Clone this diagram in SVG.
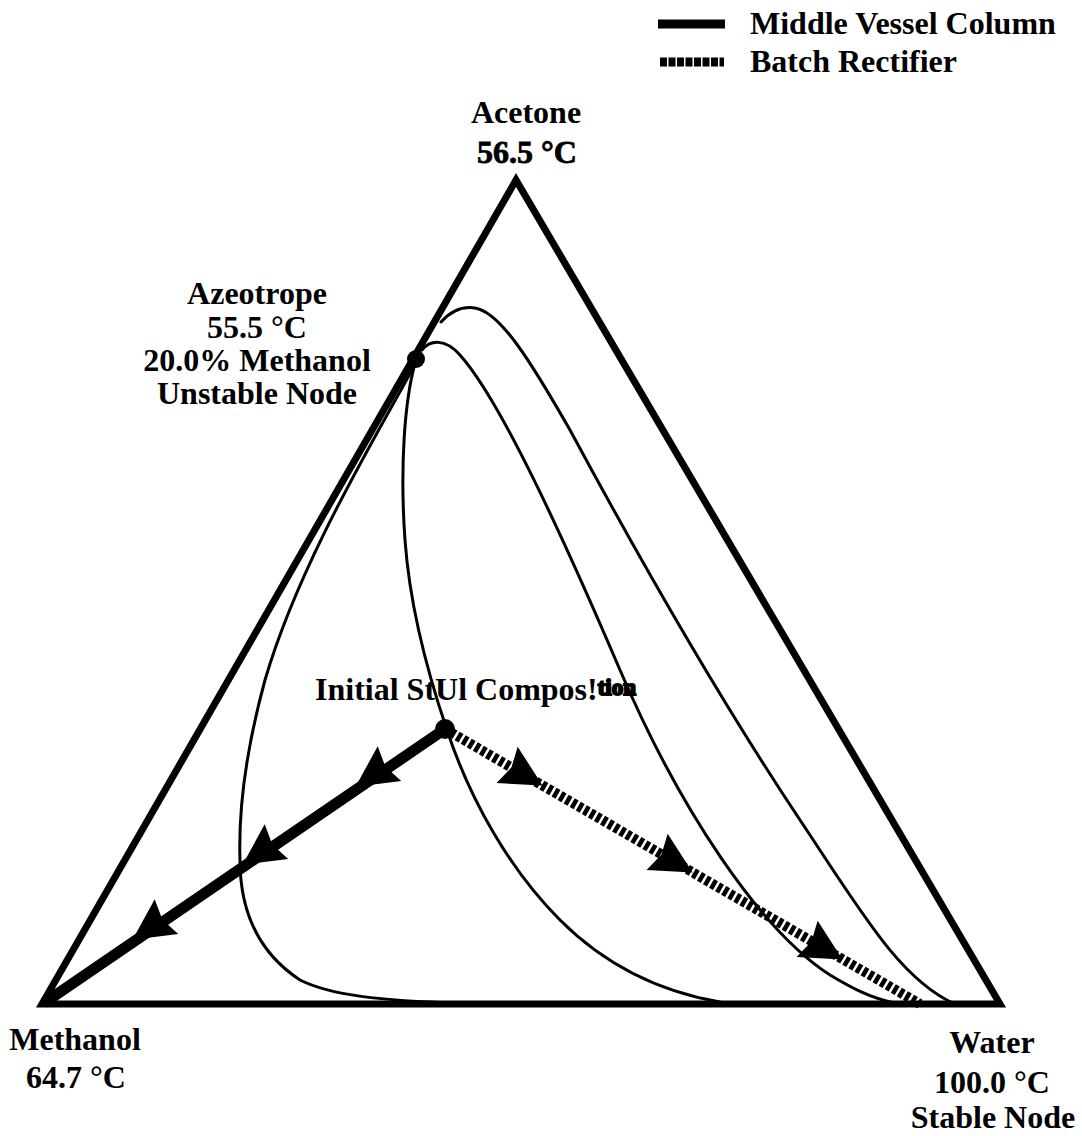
<svg xmlns="http://www.w3.org/2000/svg" xmlns:xlink="http://www.w3.org/1999/xlink" width="1082" height="1136" viewBox="0 0 1082 1136">
<style>
.t{font-family:"Liberation Serif","Times New Roman",serif;font-weight:bold;font-size:32px;fill:#000}
.m{text-anchor:middle}
.edge{fill:none;stroke:#000;stroke-width:7;stroke-linejoin:miter}
.rc{fill:none;stroke:#000;stroke-width:3;stroke-linecap:round}
.solid{fill:none;stroke:#000;stroke-width:11}
.hatch{fill:none;stroke:#000;stroke-width:10;stroke-dasharray:4.5 2.5}
</style>
<defs>
<polygon id="ah" points="3,0 -38,-21 -33,0 -38,21" fill="#000"/>
</defs>
<rect width="1082" height="1136" fill="#fff"/>
<g id="legend">
<line x1="658" y1="24" x2="725" y2="24" stroke="#000" stroke-width="9"/>
<text class="t" x="750" y="34">Middle Vessel Column</text>
<line x1="660" y1="62" x2="724" y2="62" stroke="#000" stroke-width="9" stroke-dasharray="7 1.5"/>
<text class="t" x="750" y="72">Batch Rectifier</text>
</g>
<g id="triangle">
<path class="edge" d="M516,180 L42,1004 L1000,1004 Z"/>
</g>
<g id="residue-curves">
<path class="rc" d="M414,366 C380,430 300,560 265,680 C250,735 238,800 240,860 C240,915 262,955 300,980 C330,995 380,1001 460,1003"/>
<path class="rc" d="M416,360 C404,400 400,470 405,540 C410,610 430,680 447,730 C470,800 510,870 560,920 C600,960 650,990 720,1002"/>
<path class="rc" d="M422,350 C430,340 445,338 460,355 C500,400 560,530 620,670 C680,810 760,930 830,975 C850,987 870,998 895,1003"/>
<path class="rc" d="M441,322 C450,312 462,306 475,308 C500,312 530,360 570,430 C640,560 720,700 800,820 C860,910 900,980 955,1004"/>
</g>
<g id="connectors">
<line class="solid" x1="445" y1="729" x2="44" y2="1003"/>
<line class="hatch" x1="445" y1="729" x2="920" y2="1004"/>
<use xlink:href="#ah" transform="translate(358,785) rotate(145.9)"/>
<use xlink:href="#ah" transform="translate(245,863) rotate(145.9)"/>
<use xlink:href="#ah" transform="translate(135,938) rotate(145.9)"/>
<use xlink:href="#ah" transform="translate(540,784) rotate(30.1)"/>
<use xlink:href="#ah" transform="translate(690,871) rotate(30.1)"/>
<use xlink:href="#ah" transform="translate(840,958) rotate(30.1)"/>
</g>
<g id="node-acetone">
<text class="t m" x="526" y="123">Acetone</text>
<text class="t m" x="527" y="163" stroke="#000" stroke-width="0.8">56.5 °C</text>
</g>
<g id="node-azeotrope">
<circle cx="416" cy="359" r="9" fill="#000"/>
<text class="t m" x="257" y="304">Azeotrope</text>
<text class="t m" x="257" y="338">55.5 °C</text>
<text class="t m" x="257" y="371">20.0% Methanol</text>
<text class="t m" x="257" y="404">Unstable Node</text>
</g>
<g id="node-initial">
<circle cx="445" cy="729" r="10" fill="#000"/>
<text class="t" x="315" y="700">Initial StUl Compos!<tspan font-size="23" dy="-5" stroke="#000" stroke-width="2">tion</tspan></text>
</g>
<g id="node-methanol">
<text class="t m" x="75" y="1050">Methanol</text>
<text class="t m" x="76" y="1088">64.7 °C</text>
</g>
<g id="node-water">
<text class="t m" x="992" y="1053">Water</text>
<text class="t m" x="992" y="1093">100.0 °C</text>
<text class="t m" x="993" y="1128">Stable Node</text>
</g>
</svg>
